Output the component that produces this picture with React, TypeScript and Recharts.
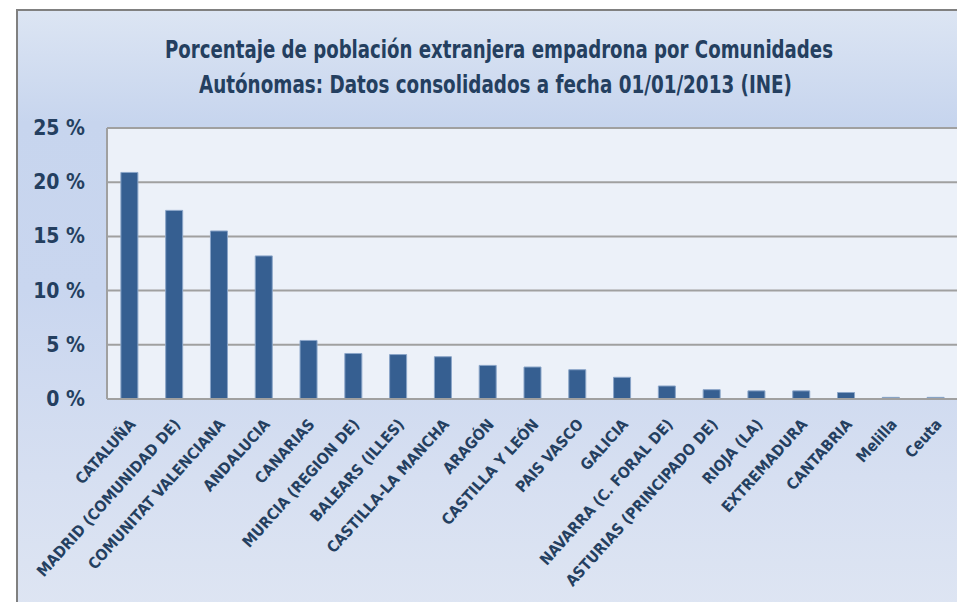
import React from "react";
import { BarChart, Bar, XAxis, YAxis, CartesianGrid } from "recharts";

const titleLines = [
  "Porcentaje de población extranjera empadrona por Comunidades",
  "Autónomas: Datos consolidados a fecha 01/01/2013 (INE)",
];

const categories = [
  "CATALUÑA",
  "MADRID (COMUNIDAD DE)",
  "COMUNITAT VALENCIANA",
  "ANDALUCIA",
  "CANARIAS",
  "MURCIA (REGION DE)",
  "BALEARS (ILLES)",
  "CASTILLA-LA MANCHA",
  "ARAGÓN",
  "CASTILLA Y LEÓN",
  "PAIS VASCO",
  "GALICIA",
  "NAVARRA (C. FORAL DE)",
  "ASTURIAS (PRINCIPADO DE)",
  "RIOJA (LA)",
  "EXTREMADURA",
  "CANTABRIA",
  "Melilla",
  "Ceuta",
];

const values = [
  20.9, 17.4, 15.5, 13.2, 5.4, 4.2, 4.1, 3.9, 3.1, 2.95, 2.7, 2.0, 1.2, 0.86,
  0.75, 0.75, 0.6, 0.15, 0.15,
];

const yTicks = [0, 5, 10, 15, 20, 25];

const data = categories.map((name, i) => ({ name, value: values[i] }));

const FONT = "'Liberation Sans Narrow', 'DejaVu Sans Condensed', 'Open Sans', sans-serif";
const TEXT = "#243f60";

const YTick = (props: any) => {
  const { y, payload } = props;
  return (
    <text
      x={85}
      y={y}
      textAnchor="end"
      dominantBaseline="central"
      fill={TEXT}
      fontFamily={FONT}
      fontWeight="bold"
      fontSize={21}
    >
      {`${payload.value} %`}
    </text>
  );
};

const XTick = (props: any) => {
  const { x, payload } = props;
  const ax = x + 7;
  const ay = 425;
  return (
    <text
      x={ax}
      y={ay}
      textAnchor="end"
      transform={`rotate(-48 ${ax} ${ay})`}
      fill={TEXT}
      fontFamily={FONT}
      fontWeight="bold"
      fontSize={15.5}
    >
      {payload.value}
    </text>
  );
};

export default function App() {
  return (
    <div
      style={{
        position: "absolute",
        left: 0,
        top: 0,
        width: 957,
        height: 602,
        overflow: "hidden",
        background: "#ffffff",
      }}
    >
      <div
        style={{
          position: "absolute",
          left: 16,
          top: 9,
          width: 960,
          height: 620,
          borderLeft: "2px solid #808080",
          borderTop: "2px solid #808080",
          background:
            "linear-gradient(to bottom, #dce5f3 0%, #c7d5ee 18%, #c9d6ef 45%, #d6dff1 75%, #dfe6f3 100%)",
        }}
      />
      <div style={{ position: "absolute", left: 0, top: 0 }}>
        <BarChart
          width={960}
          height={602}
          data={data}
          margin={{ top: 128, right: 2, left: 17, bottom: 13 }}
          barCategoryGap="31%"
        >
          <CartesianGrid
            vertical={false}
            stroke="#a0a0a0"
            strokeWidth={2}
            fill="#ecf1f9"
          />
          <XAxis
            dataKey="name"
            interval={0}
            height={190}
            tickLine={false}
            axisLine={{ stroke: "#a0a0a0", strokeWidth: 2 }}
            tick={<XTick />}
          />
          <YAxis
            width={90}
            domain={[0, 25]}
            ticks={yTicks}
            tickLine={false}
            axisLine={{ stroke: "#a0a0a0", strokeWidth: 2 }}
            tick={<YTick />}
          />
          <Bar
            dataKey="value"
            fill="#365f91"
            stroke="#8aa5c8"
            strokeWidth={1}
            isAnimationActive={false}
          />
        </BarChart>
      </div>
      <svg
        width={957}
        height={602}
        style={{ position: "absolute", left: 0, top: 0, pointerEvents: "none" }}
      >
        <text
          x={165}
          y={58}
          textLength={668}
          lengthAdjust="spacingAndGlyphs"
          fill={TEXT}
          fontFamily={FONT}
          fontWeight="bold"
          fontSize={24}
        >
          {titleLines[0]}
        </text>
        <text
          x={199}
          y={93}
          textLength={593}
          lengthAdjust="spacingAndGlyphs"
          fill={TEXT}
          fontFamily={FONT}
          fontWeight="bold"
          fontSize={24}
        >
          {titleLines[1]}
        </text>
      </svg>
    </div>
  );
}
